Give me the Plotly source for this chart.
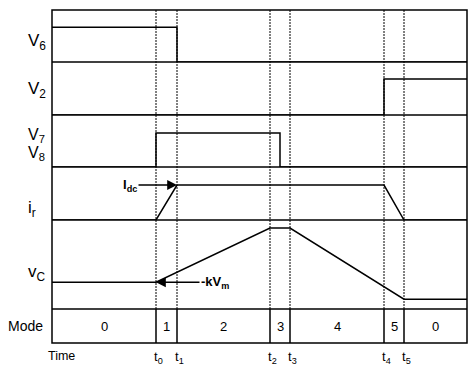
import plotly.graph_objects as go
from plotly.subplots import make_subplots

# ---------------- data ----------------
# time axis (arbitrary units): start, switching instants t0..t5, end
t_start, t_end = 0, 415
t_marks = [104, 125, 218, 238, 332, 352]          # t0 .. t5
t_names = ["t<sub>0</sub>", "t<sub>1</sub>", "t<sub>2</sub>",
           "t<sub>3</sub>", "t<sub>4</sub>", "t<sub>5</sub>"]
t_v7_off = 228                                    # V7/V8 turn-off instant (between t2 and t3)
t0, t1, t2, t3, t4, t5 = t_marks

mode_names = ["0", "1", "2", "3", "4", "5", "0"]

# signal levels (fraction of each row's height)
v6_high = 0.67
v2_high = 0.68
v78_high = 0.654
i_dc = 0.66
vc_low = 0.30       # -kVm
vc_peak = 0.91
vc_end = 0.11

v6_x = [t_start, t1, t1, t_end]
v6_y = [v6_high, v6_high, 0, 0]
v2_x = [t_start, t4, t4, t_end]
v2_y = [0, 0, v2_high, v2_high]
v78_x = [t_start, t0, t0, t_v7_off, t_v7_off, t_end]
v78_y = [0, 0, v78_high, v78_high, 0, 0]
ir_x = [t_start, t0, t1, t4, t5, t_end]
ir_y = [0, 0, i_dc, i_dc, 0, 0]
vc_x = [t_start, t0, t2, t3, t5, t_end]
vc_y = [vc_low, vc_low, vc_peak, vc_peak, vc_end, vc_end]

row_labels = ["V<sub>6</sub>", "V<sub>2</sub>", None, "i<sub>r</sub>", "v<sub>C</sub>", "Mode"]

# ---------------- figure ----------------
FONT = "Liberation Sans, Arial, sans-serif"
fig = make_subplots(rows=6, cols=1, shared_xaxes=True, vertical_spacing=0,
                    row_heights=[52, 53, 52, 53, 89, 34])

LW = 1.5
line_style = dict(color="black", width=LW)
for r, (xs, ys) in enumerate([(v6_x, v6_y), (v2_x, v2_y), (v78_x, v78_y),
                              (ir_x, ir_y), (vc_x, vc_y)], start=1):
    fig.add_trace(go.Scatter(x=xs, y=ys, mode="lines", line=line_style,
                             cliponaxis=False, hoverinfo="skip", showlegend=False),
                  row=r, col=1)

fig.update_xaxes(range=[t_start, t_end], showline=False, showticklabels=False,
                 showgrid=False, zeroline=False, ticks="")
fig.update_yaxes(range=[0, 1], showline=False, showticklabels=False,
                 showgrid=False, zeroline=False, ticks="")

fig.update_layout(width=474, height=367, margin=dict(l=52, r=7, t=10, b=24),
                  paper_bgcolor="white", plot_bgcolor="white",
                  font=dict(family=FONT, color="black"))

mode_top = fig.layout.yaxis6.domain[1]


def yr(r, dom=True):
    base = "y" if r == 1 else f"y{r}"
    return base + (" domain" if dom else "")


def xr(r):
    return "x" if r == 1 else f"x{r}"


# outer frame and row separators (centred on each row's baseline)
fig.add_shape(type="rect", xref="paper", yref="paper", x0=0, x1=1, y0=0, y1=1,
              line=dict(color="black", width=LW))
for r in range(1, 6):
    fig.add_shape(type="line", xref="paper", yref=yr(r), x0=0, x1=1, y0=0, y1=0,
                  line=dict(color="black", width=LW))

# dotted time markers through the signal rows, solid in the mode row
for t in t_marks:
    fig.add_shape(type="line", xref="x", yref="paper", x0=t, x1=t, y0=mode_top, y1=1,
                  line=dict(color="black", width=1, dash="2px,1px"))
    fig.add_shape(type="line", xref=xr(6), yref=yr(6), x0=t, x1=t, y0=0, y1=1,
                  line=dict(color="black", width=LW))

# mode numbers
bounds = [t_start] + t_marks + [t_end]
for i, name in enumerate(mode_names):
    fig.add_annotation(xref=xr(6), yref=yr(6), x=(bounds[i] + bounds[i + 1]) / 2,
                       y=0.5, text=name, showarrow=False, font=dict(size=13))

# time labels
for t, name in zip(t_marks, t_names):
    fig.add_annotation(xref="x", yref="paper", x=t, y=0, yanchor="top", yshift=-4,
                       xshift=2, text=name, showarrow=False, font=dict(size=13))
fig.add_annotation(xref="paper", yref="paper", x=-0.014, y=0, yanchor="top", yshift=-4,
                   text="Time", showarrow=False, font=dict(size=12.5))

# row labels
label_pos = {1: 0.14, 2: 0.47, 4: -0.04, 5: 0.40}
for r, y in label_pos.items():
    fig.add_annotation(xref="paper", yref=yr(r), x=-0.063, y=y, xanchor="left",
                       text=row_labels[r - 1], showarrow=False, font=dict(size=17))
fig.add_annotation(xref="paper", yref=yr(3), x=-0.063, y=0.6, xanchor="left",
                   text="V<sub>7</sub>", showarrow=False, font=dict(size=16))
fig.add_annotation(xref="paper", yref=yr(3), x=-0.063, y=0.04, xanchor="left",
                   text="V<sub>8</sub>", showarrow=False, font=dict(size=16))
fig.add_annotation(xref="paper", yref=yr(6), x=-0.018, y=0.5, xanchor="right",
                   text=row_labels[5], showarrow=False, font=dict(size=14))

# arrows
fig.add_annotation(xref=xr(4), yref=yr(4, False), x=t1, y=i_dc, ax=-47, ay=0,
                   text="<b>I<sub>dc</sub></b>", showarrow=True, arrowhead=2,
                   arrowsize=1.4, arrowwidth=1.4, arrowcolor="black",
                   font=dict(size=13))
fig.add_annotation(xref=xr(5), yref=yr(5, False), x=t0, y=vc_low, ax=59, ay=0,
                   text="<b>-kV<sub>m</sub></b>", showarrow=True, arrowhead=2,
                   arrowsize=1.4, arrowwidth=1.4, arrowcolor="black",
                   font=dict(size=13))

fig.write_html("out.html")
